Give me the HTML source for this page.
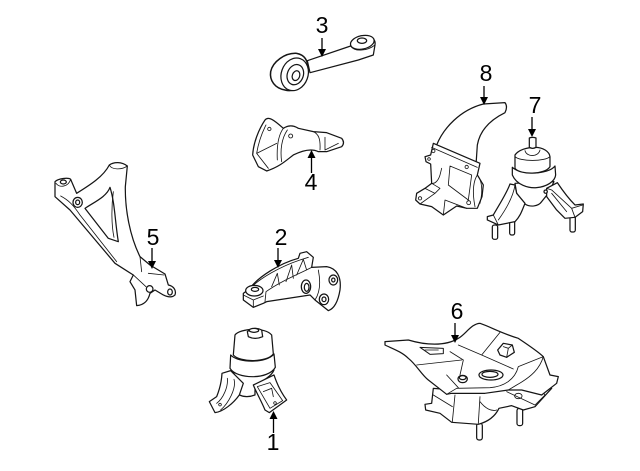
<!DOCTYPE html>
<html><head><meta charset="utf-8"><style>
html,body{margin:0;padding:0;background:#fff}
svg{display:block}
.p path,.p ellipse,.p circle,.p rect{fill:#fff;stroke:#151515;stroke-width:3.7;stroke-linejoin:round;stroke-linecap:round}
.p path.n{fill:none;stroke-width:2.5}
text{font-family:"Liberation Sans",sans-serif;font-size:23px;fill:#000;text-anchor:middle}
.a{stroke:#000;stroke-width:1.3}
</style></head><body>
<svg width="640" height="471" viewBox="0 0 640 471" xmlns="http://www.w3.org/2000/svg">
<rect width="640" height="471" fill="#fff"/>

<!-- 3 -->
<g class="p" transform="translate(230,10) scale(.3333)">
<path d="M232,152L362,108C365,90 380,78 400,77C425,76 438,88 435,105L430,135L385,150L240,188Z"/>
<path class="n" d="M362,108C372,125 410,125 435,105"/>
<ellipse cx="397" cy="97" rx="36" ry="20" transform="rotate(-12 397 97)"/>
<ellipse cx="396" cy="92" rx="14" ry="8"/>
<path d="M165,240C135,235 118,212 122,185C128,155 165,128 200,130C222,134 235,150 234,180C232,215 200,250 165,240Z" style="stroke-width:4.6"/>
<ellipse cx="194" cy="193" rx="40" ry="50" transform="rotate(20 194 193)"/>
<ellipse cx="196" cy="194" rx="24" ry="31" transform="rotate(20 196 194)"/>
<ellipse cx="198" cy="197" rx="11" ry="15" transform="rotate(20 198 197)"/>
</g>

<!-- 4 -->
<g class="p" transform="translate(230,10) scale(.3333)">
<path d="M105,330C115,318 130,328 160,355C175,345 190,345 205,355L250,365L290,368L335,385Q346,398 335,410L290,425L265,425C245,415 220,420 190,435C170,450 150,470 110,483L85,470L68,435C70,400 85,360 105,330Z"/>
<path class="n" d="M108,345C95,370 85,400 80,430L115,475M80,430L140,400M160,355C145,375 140,410 142,450M172,360C155,385 150,420 155,455M250,365C265,372 272,385 270,420M285,382L285,420L325,400M118,352a5,5 0 1,0 .1,0M182,372a6,6 0 1,0 .1,0"/>
</g>

<!-- 8 -->
<g class="p" transform="translate(400,60) scale(.3333)">
<path d="M110,255C130,205 180,150 250,132L315,128Q324,140 315,158C270,180 240,210 232,255L228,315L110,265Z"/>
<path d="M100,250L240,310L232,345L250,375L246,410L232,445L200,445L170,438L130,465L95,440L60,432L47,420L50,400L75,385L95,370L92,312L78,305L75,290L92,285Z"/>
<path class="n" d="M95,262L232,322M232,345C222,360 215,390 225,440M232,345C245,360 250,390 240,430M150,318L215,345L205,420L145,375ZM95,370C105,372 115,362 120,345L125,325M95,370L120,385L105,400L75,385M60,432L105,400M130,465L135,420L200,445M100,268a5,5 0 1,0 .1,0M200,316a5,5 0 1,0 .1,0M206,422a6,6 0 1,0 .1,0M60,410a5,5 0 1,0 .1,0M87,293a4,4 0 1,0 .1,0"/>
</g>

<!-- 7 -->
<g class="p" transform="translate(400,60) scale(.3333)">
<rect x="277" y="495" width="16" height="43" rx="6"/>
<rect x="329" y="480" width="15" height="45" rx="6"/>
<rect x="510" y="465" width="16" height="51" rx="6"/>
<path d="M345,370L350,400L375,432C390,442 415,440 425,425L445,400L462,365Z"/>
<path d="M337,322L337,345C350,375 385,385 410,383C440,380 465,365 467,345L465,318C445,345 360,345 337,322Z"/>
<path d="M345,325L345,285C355,270 380,262 405,262C430,262 448,275 450,290L450,320C435,345 360,345 345,325Z"/>
<path class="n" d="M345,290C360,305 435,305 450,290M375,272C380,292 415,292 420,270"/>
<path d="M330,372L345,375L350,400L375,430C365,455 360,470 345,485L295,495L262,480L262,470L280,465C300,430 320,400 330,372Z"/>
<path class="n" d="M345,375C340,410 320,445 295,480M280,465L295,495"/>
<path d="M440,385L472,368C490,395 510,420 525,435L550,432L548,455L525,472L495,475L470,450L440,410Z"/>
<path class="n" d="M440,385L455,390L515,445L525,472M455,400L500,455M515,445L548,435"/>
<path d="M388,234Q398,230 408,234L408,262Q398,268 388,262Z"/>
<circle cx="437" cy="395" r="5"/>
</g>

<!-- 5 -->
<g class="p" transform="translate(40,150) scale(.3333)">
<path d="M45,95C55,85 85,82 92,88L110,130C150,105 190,80 208,45C222,35 245,35 262,48L256,110C255,180 270,260 300,320L330,345L375,372L385,405C400,408 410,420 405,435C395,445 380,440 370,435L345,420L330,430C325,450 315,465 290,467L285,420L270,395L280,375L225,340L90,180L45,140Z"/>
<path d="M210,112C200,140 165,155 135,175L205,265L235,275C225,215 225,160 210,112Z"/>
<path class="n" d="M220,125C214,170 214,225 222,262M62,138C85,150 100,165 120,195L230,335M208,45C215,60 245,60 262,48M300,320L305,365M325,370L372,375M280,375L318,410M48,100C60,115 85,110 92,88"/>
<ellipse cx="70" cy="96" rx="9" ry="6"/>
<ellipse cx="113" cy="157" rx="14" ry="15"/>
<ellipse cx="113" cy="157" rx="6" ry="7"/>
<circle cx="329" cy="417" r="10"/>
<ellipse cx="390" cy="426" rx="7" ry="9"/>
</g>

<!-- 2 -->
<g class="p" transform="translate(200,220) scale(.3333)">
<path d="M300,100L320,95L340,112L335,142L380,140C410,145 425,170 420,210C415,240 405,265 385,272L345,240L330,225L200,245L190,250L160,262L130,240L130,220L150,205C175,170 240,130 295,115Z"/>
<path class="n" d="M150,205C180,175 240,140 300,120L325,112M198,215C240,185 290,165 335,142M215,200L232,160L238,195M258,185L275,135L280,175M290,165L310,118L320,150M198,215L195,245M355,150C365,200 355,225 345,240M130,225L160,240L160,262M160,240L190,228"/>
<ellipse cx="163" cy="212" rx="26" ry="16"/>
<ellipse cx="165" cy="208" rx="11" ry="6"/>
<ellipse cx="318" cy="200" rx="14" ry="20"/>
<ellipse cx="320" cy="202" rx="7" ry="12"/>
<ellipse cx="400" cy="180" rx="13" ry="15"/>
<ellipse cx="400" cy="180" rx="5" ry="6"/>
<ellipse cx="372" cy="238" rx="14" ry="16"/>
<ellipse cx="372" cy="238" rx="6" ry="7"/>
</g>

<!-- 1 -->
<g class="p" transform="translate(200,220) scale(.3333)">
<path d="M100,455C105,478 122,488 125,495L118,525C135,533 150,531 165,525L165,495C190,482 215,468 222,450Z"/>
<path d="M92,405L90,445C110,478 205,480 226,442L222,402C200,430 115,430 92,405Z"/>
<path d="M100,405L105,345C120,325 195,320 215,345L220,402C200,428 120,428 100,405Z"/>
<path d="M142,335L145,350Q165,360 188,350L185,330Q165,318 142,335Z"/>
<ellipse cx="162" cy="331" rx="14" ry="6"/>
<path d="M66,460L92,452L130,490L118,525C100,550 70,575 45,578L28,545L50,530C60,505 65,480 66,460Z"/>
<path class="n" d="M82,475C85,500 70,535 50,550M102,478C110,505 85,550 62,570M60,550a4,4 0 1,0 .1,0"/>
<path d="M160,495L222,465C232,495 245,520 260,540L208,578L195,570C185,545 170,520 160,495Z"/>
<path class="n" d="M172,500L210,488L248,542L210,565ZM190,515L215,505L220,530M225,545a4,4 0 1,0 .1,0"/>
</g>

<!-- 6 -->
<g class="p" transform="translate(375,295) scale(.3333)">
<rect x="305" y="385" width="17" height="50" rx="7"/>
<rect x="426" y="340" width="17" height="52" rx="7"/>
<path d="M175,280L170,325L150,328L152,345L195,355L230,382L310,388C340,380 360,365 372,340L410,332L445,345L480,335L530,280L470,260L300,290Z"/>
<path class="n" d="M240,300L232,380M315,305L310,385M315,320C330,340 350,350 365,345M175,300L232,335M395,290L480,330L510,300L470,240M430,295a11,8 0 1,0 .1,0"/>
<path d="M30,140L100,135C150,150 210,155 250,130C270,120 290,85 315,85C345,95 380,115 430,130C460,150 490,170 505,185L525,240L550,245L545,265L500,300L440,285L400,285L330,295L230,295L215,298L160,255C140,240 125,210 100,190C80,170 50,160 30,150Z"/>
<path class="n" d="M250,150L320,180L415,222M320,180L375,112M430,215L505,185M430,215C420,255 385,275 345,278L245,280L215,298M225,170L265,195L255,240M125,210L260,195M215,240L250,278M505,185C495,220 470,245 425,270L400,285"/>
<path d="M135,157L205,160L205,176L165,178Z" style="stroke-width:3"/>
<path class="n" d="M150,165L190,165"/>
<ellipse cx="348" cy="240" rx="36" ry="15"/>
<ellipse cx="345" cy="238" rx="24" ry="9"/>
<path d="M368,165L385,145L412,150L418,172L395,187L375,180Z"/>
<path class="n" d="M385,155L400,160L412,150M400,160L395,187"/>
<ellipse cx="263" cy="252" rx="14" ry="11"/>
<ellipse cx="263" cy="248" rx="10" ry="6"/>
</g>

<!-- arrows -->
<g class="a" fill="#000">
<line x1="322" y1="38" x2="322" y2="52"/><path d="M318,49L326,49L322,57Z" stroke="none"/>
<line x1="311.5" y1="173" x2="311.5" y2="155"/><path d="M307.5,158L315.5,158L311.5,150Z" stroke="none"/>
<line x1="484" y1="86" x2="484" y2="100"/><path d="M480,97L488,97L484,105Z" stroke="none"/>
<line x1="532" y1="117" x2="532" y2="132"/><path d="M528,129L536,129L532,137Z" stroke="none"/>
<line x1="152" y1="248" x2="152" y2="264"/><path d="M148,261L156,261L152,269Z" stroke="none"/>
<line x1="278" y1="248" x2="278" y2="263"/><path d="M274,260L282,260L278,268Z" stroke="none"/>
<line x1="273.5" y1="433" x2="273.5" y2="416"/><path d="M269.5,419L277.5,419L273.5,411Z" stroke="none"/>
<line x1="455" y1="323" x2="455" y2="338"/><path d="M451,335L459,335L455,343Z" stroke="none"/>
</g>

<text x="322" y="33">3</text>
<text x="311" y="190">4</text>
<text x="486" y="81">8</text>
<text x="535" y="113">7</text>
<text x="153" y="245">5</text>
<text x="281" y="245">2</text>
<text x="273" y="450">1</text>
<text x="457" y="319">6</text>
</svg>
</body></html>
